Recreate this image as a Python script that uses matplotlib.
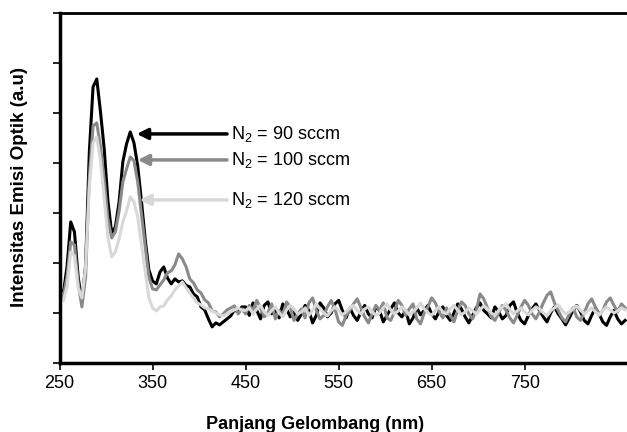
import numpy as np
import matplotlib
matplotlib.use('Agg')
import matplotlib.pyplot as plt

plt.rcParams['font.family'] = ['Liberation Sans', 'DejaVu Sans']
plt.rcParams['mathtext.fontset'] = 'custom'
plt.rcParams['mathtext.rm'] = 'Liberation Sans'
plt.rcParams['mathtext.it'] = 'Liberation Sans'

# wavelength grid (nm), 4 nm steps
wl = np.arange(250, 859, 4)

# peak region 250-446 nm
peak_90 = [1.50, 1.38, 1.92, 2.82, 2.62, 1.72, 1.22, 1.95, 4.22, 5.52,
           5.68, 5.02, 4.28, 3.24, 2.60, 2.72, 3.22, 4.02, 4.38, 4.62,
           4.40, 3.94, 3.24, 2.48, 1.86, 1.64, 1.58, 1.82, 1.92, 1.70,
           1.58, 1.68, 1.62, 1.64, 1.55, 1.52, 1.38, 1.32, 1.12, 1.06,
           0.88, 0.72, 0.80, 0.76, 0.82, 0.88, 0.94, 1.06, 1.02, 1.12]
peak_100 = [1.45, 1.32, 1.72, 2.42, 2.36, 1.60, 1.12, 1.72, 3.72, 4.74,
            4.80, 4.32, 3.66, 2.88, 2.50, 2.62, 3.04, 3.62, 3.88, 4.12,
            4.04, 3.62, 2.98, 2.34, 1.72, 1.48, 1.46, 1.56, 1.66, 1.80,
            1.84, 1.96, 2.18, 2.08, 1.92, 1.68, 1.60, 1.46, 1.40, 1.26,
            1.20, 1.04, 1.02, 0.92, 0.98, 1.06, 1.10, 1.14, 0.98, 1.08]
peak_120 = [1.30, 1.24, 1.52, 2.22, 2.14, 1.50, 1.30, 1.92, 3.52, 4.40,
            4.52, 4.04, 3.30, 2.50, 2.12, 2.22, 2.48, 2.82, 3.04, 3.32,
            3.22, 2.92, 2.38, 1.84, 1.30, 1.10, 1.04, 1.12, 1.14, 1.26,
            1.34, 1.46, 1.54, 1.62, 1.50, 1.40, 1.30, 1.20, 1.16, 1.10,
            1.08, 1.04, 1.00, 0.96, 0.94, 0.98, 1.02, 1.06, 1.10, 1.05]

# baseline region 450-858 nm
base_90 = [1.12, 0.95, 1.20, 1.05, 0.88, 1.15, 1.22, 0.98, 1.05, 0.90,
           1.18, 1.08, 0.92, 1.02, 0.85, 0.98, 1.15, 1.05, 0.80, 0.95,
           1.20, 1.10, 0.92, 1.00, 1.18, 1.25, 1.05, 0.90, 1.10, 0.95,
           0.85, 1.02, 1.15, 0.98, 0.90, 1.12, 1.05, 0.82, 0.95, 1.08,
           1.20, 1.00, 0.92, 1.05, 0.78, 0.90, 1.10, 0.96, 1.05, 1.15,
           0.98, 0.88, 1.02, 1.12, 0.95, 0.85, 1.00, 1.18, 1.08, 0.92,
           0.80, 0.95, 1.10, 1.20, 1.05, 0.98, 0.90, 1.12, 1.02, 0.88,
           0.95, 1.15, 1.22, 1.00, 0.85, 0.78, 0.95, 1.08, 1.18, 1.05,
           0.92, 0.82, 1.00, 1.12, 0.98, 0.88, 0.76, 0.90, 1.05, 1.15,
           1.02, 0.85, 0.78, 0.95, 1.10, 0.98, 0.82, 0.75, 0.92, 1.05,
           0.88, 0.78, 0.85]
base_100 = [0.98, 1.15, 1.05, 1.25, 1.10, 0.92, 1.00, 1.18, 0.88, 1.05,
            0.95, 1.22, 1.12, 0.85, 0.98, 1.08, 0.90, 1.20, 1.30, 1.05,
            0.88, 0.95, 1.12, 1.25, 1.08, 0.82, 0.75, 0.95, 1.05, 1.18,
            1.28, 1.10, 0.92, 0.80, 0.98, 1.15, 1.05, 1.20, 0.90, 0.85,
            1.02, 1.25, 1.15, 0.95, 1.08, 1.18, 0.88, 0.78, 1.00, 1.12,
            1.30, 1.20, 1.02, 0.90, 1.10, 0.95, 0.82, 1.05, 1.22, 1.15,
            0.98, 0.88, 1.05, 1.38, 1.28, 1.10, 0.92, 0.85, 1.00, 1.15,
            1.05, 0.90, 0.80, 0.95, 1.12, 1.25, 1.15, 0.98, 0.88, 1.02,
            1.20, 1.35, 1.42, 1.20, 1.05, 0.90, 0.82, 0.98, 1.10, 0.92,
            0.85, 1.00, 1.18, 1.28, 1.12, 0.95, 1.05, 1.22, 1.30, 1.15,
            1.02, 1.18, 1.10]
base_120 = [1.05, 1.10, 0.98, 1.08, 1.15, 1.02, 0.95, 1.05, 1.12, 1.00,
            0.92, 1.06, 1.15, 1.08, 0.98, 1.02, 1.10, 0.95, 1.05, 1.18,
            1.08, 1.00, 0.94, 1.04, 1.12, 1.05, 0.96, 1.02, 1.10, 1.15,
            1.05, 0.98, 1.08, 1.12, 1.02, 0.95, 1.00, 1.10, 1.18, 1.06,
            0.98, 1.04, 1.12, 1.05, 0.96, 1.02, 1.10, 1.20, 1.08, 1.00,
            0.95, 1.05, 1.12, 1.02, 0.98, 1.08, 1.15, 1.05, 0.96, 1.02,
            1.10, 1.04, 0.98, 1.06, 1.14, 1.08, 1.00, 0.95, 1.05, 1.12,
            1.18, 1.06, 0.98, 1.04, 1.10, 1.02, 0.96, 1.05, 1.12, 1.08,
            1.00, 0.94, 1.04, 1.10, 1.16, 1.06, 0.98, 1.02, 1.08, 1.14,
            1.05, 0.98, 1.04, 1.10, 1.02, 0.96, 1.05, 1.12, 1.06, 1.00,
            1.04, 1.10, 1.06]

labels = ['N$_2$ = 90 sccm', 'N$_2$ = 100 sccm', 'N$_2$ = 120 sccm']
colors = ['#000000', '#8a8a8a', '#d8d8d8']
series = [peak_90 + base_90, peak_100 + base_100, peak_120 + base_120]

# arrow tips (wavelength, intensity) for the annotations
tip_x = [333, 334, 336]
tip_y = [4.58, 4.06, 3.26]

fig = plt.figure(figsize=(6.27, 4.32), dpi=100)
ax = fig.add_axes([0.095, 0.16, 0.905, 0.81])

for y, c in zip(series, colors):
    ax.plot(wl, y, color=c, lw=2.2)

for lab, c, tx, ty in zip(labels, colors, tip_x, tip_y):
    ax.annotate('', xy=(tx, ty), xytext=(430, ty),
                arrowprops=dict(arrowstyle='-|>', color=c, lw=2.5,
                                mutation_scale=16, shrinkA=0, shrinkB=0))
    ax.text(434, ty, lab, fontsize=13, va='center', ha='left')

ax.set_xlim(250, 860)
ax.set_ylim(0, 7)
ax.set_xticks([250, 350, 450, 550, 650, 750])
ax.set_yticks(np.arange(0, 8, 1))
ax.set_yticklabels([])
ax.tick_params(direction='out', length=5, width=1.2, labelsize=13)
ax.spines['right'].set_visible(False)
ax.spines['left'].set_linewidth(2.5)
ax.spines['bottom'].set_linewidth(2.5)
ax.spines['top'].set_linewidth(2)

ax.set_xlabel('Panjang Gelombang (nm)', fontsize=13, fontweight='bold')
ax.xaxis.set_label_coords(0.45, -0.151)
ax.set_ylabel('Intensitas Emisi Optik (a.u)', fontsize=13.5, fontweight='bold')
ax.yaxis.set_label_coords(-0.055, 0.503)

fig.savefig('out.png', dpi=100)
